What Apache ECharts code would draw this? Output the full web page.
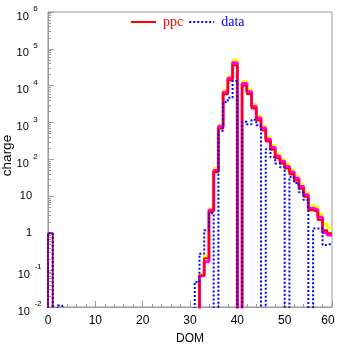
<!DOCTYPE html>
<html><head><meta charset="utf-8">
<script src="https://cdn.jsdelivr.net/npm/echarts@6/dist/echarts.min.js"></script>
<style>html,body{margin:0;padding:0;background:#fff;}#c{width:337px;height:344px;}</style>
</head><body><div id="c"></div>
<script>
// x tick labels (DOM) and y decade exponents
const xTicks = [0, 10, 20, 30, 40, 50, 60];
const yTickExp = [-2, -1, 0, 1, 2, 3, 4, 5, 6];
const yMinorMantissa = [2, 3, 4, 5, 6, 7, 8, 9];

// bin contents for DOM 0..59
const ppc = [
  1, 0, 0, 0, 0, 0, 0, 0, 0, 0,
  0, 0, 0, 0, 0, 0, 0, 0, 0, 0,
  0, 0, 0, 0, 0, 0, 0, 0, 0, 0,
  0, 0, 0.072, 0.21, 3.8, 45, 690, 5900, 14000, 36000,
  0, 10000, 6000, 2400, 1160, 620, 310, 185, 108, 78,
  57, 40, 27, 16, 9.7, 4.2, 3.8, 2.3, 1.2, 1.0
];
const ppcUpper = [
  0, 0, 0, 0, 0, 0, 0, 0, 0, 0,
  0, 0, 0, 0, 0, 0, 0, 0, 0, 0,
  0, 0, 0, 0, 0, 0, 0, 0, 0, 0,
  0, 0, 0.074, 0.24, 4.6, 58, 850, 7500, 18000, 50000,
  0, 13000, 7800, 3100, 1500, 800, 400, 240, 140, 100,
  74, 52, 35, 21, 13, 5.8, 5.2, 3.3, 1.8, 1.4
];
const ppcMid = [
  0, 0, 0, 0, 0, 0, 0, 0, 0, 0,
  0, 0, 0, 0, 0, 0, 0, 0, 0, 0,
  0, 0, 0, 0, 0, 0, 0, 0, 0, 0,
  0, 0, 0.07, 0.17, 4.2, 50, 780, 6700, 16000, 42000,
  0, 11500, 6900, 2750, 1330, 710, 355, 212, 124, 90,
  65, 46, 31, 18.5, 11, 4.8, 4.3, 2.7, 1.05, 0.9
];
const dataVals = [
  1, 0, 0.011, 0, 0, 0, 0, 0, 0, 0,
  0, 0, 0, 0, 0, 0, 0, 0, 0, 0,
  0, 0, 0, 0, 0, 0, 0, 0, 0, 0,
  0, 0.048, 0.28, 1.2, 3.5, 0, 600, 3600, 4700, 13500,
  0, 1050, 900, 1200, 850, 0, 190, 115, 78, 62,
  0, 34, 23, 13, 8, 0, 1.35, 1.35, 0.48, 0.52
];

const FLOOR = 1e-4; // empty bins drawn below the axis and clipped
function stepPoints(vals) {
  const pts = [[0, FLOOR]];
  vals.forEach((v, k) => pts.push([k, v > 0 ? v : FLOOR]));
  const last = vals[vals.length - 1];
  pts.push([vals.length, last > 0 ? last : FLOOR]);
  return pts;
}
const yMajor = yTickExp.map(e => Math.pow(10, e));
const yMinor = [];
yTickExp.slice(0, -1).forEach(e => yMinorMantissa.forEach(m => yMinor.push(m * Math.pow(10, e))));

const SANS = 'Liberation Sans, Arial, Helvetica, sans-serif';
const SERIF = 'Liberation Serif, Times New Roman, serif';
const GRAY = '#9a9a9a';

const chart = echarts.init(document.getElementById('c'), null, {renderer: 'canvas'});
function line(name, vals, color, width, type, z) {
  return {
    name: name, type: 'line', data: stepPoints(vals), step: 'end',
    symbol: 'none', showSymbol: false, clip: true, z: z,
    lineStyle: {color: color, width: width, type: type},
    itemStyle: {color: color}, emphasis: {disabled: true}
  };
}
chart.setOption({
  animation: false,
  backgroundColor: '#fff',
  grid: {left: 48, right: 5, top: 12, bottom: 37, containLabel: false, outerBoundsMode: 'none',
         show: true, borderColor: GRAY, borderWidth: 1, backgroundColor: 'transparent'},
  legend: {
    data: [{name: 'ppc', textStyle: {color: '#ff0000'}}, {name: 'data', textStyle: {color: '#0000ff'}}],
    left: 130, top: 15, padding: 0, itemWidth: 25, itemHeight: 14, itemGap: 5,
    itemStyle: {opacity: 0, borderWidth: 0},
    textStyle: {fontFamily: SERIF, fontSize: 14, padding: [0, 0, 0, 2]},
    selectedMode: false
  },
  xAxis: {
    type: 'value', min: 0, max: 60, interval: 10,
    name: 'DOM', nameLocation: 'middle', nameGap: 26, nameMoveOverlap: false,
    nameTextStyle: {fontFamily: SANS, fontSize: 12, color: '#000'},
    axisLine: {show: true, lineStyle: {color: GRAY, width: 1}},
    axisTick: {show: true, inside: true, length: 6, lineStyle: {color: GRAY}},
    minorTick: {show: true, splitNumber: 5, length: 3, lineStyle: {color: GRAY}},
    splitLine: {show: false}, minorSplitLine: {show: false},
    axisLabel: {
      customValues: xTicks, margin: 8, fontFamily: SANS, fontSize: 12, color: '#000',
      formatter: v => v === 60 ? '{r|60}' : String(v),
      rich: {r: {fontFamily: SANS, fontSize: 12, color: '#000', padding: [0, 8, 0, 0]}}
    }
  },
  yAxis: [{
    type: 'log', logBase: 10, min: 0.01, max: 1e6, position: 'left',
    name: 'charge', nameLocation: 'middle', nameGap: 34, nameRotate: 90, nameMoveOverlap: false,
    nameTextStyle: {fontFamily: SANS, fontSize: 13.5, color: '#000', padding: [0, 0, 0, 8]},
    axisLine: {show: true, lineStyle: {color: GRAY, width: 1}},
    axisTick: {show: true, inside: true, length: 6, customValues: yMajor, lineStyle: {color: GRAY}},
    splitLine: {show: false},
    axisLabel: {
      customValues: yMajor, margin: 6, fontFamily: SANS, fontSize: 11, color: '#000',
      formatter: v => {
        const e = Math.round(Math.log10(v));
        if (e === 0) return '{p|1}';
        if (e === 1) return '{p|10}';
        return '{b|10}{' + (e < 0 ? 'en' : 'ep') + '|' + e + '}';
      },
      rich: {
        p: {fontFamily: SANS, fontSize: 11, color: '#000', padding: [0, 10, 0, 0]},
        b: {fontFamily: SANS, fontSize: 11, color: '#000', padding: [8, 0, 0, 0], verticalAlign: 'bottom'},
        en: {fontFamily: SANS, fontSize: 8, color: '#000', padding: [3, 0.5, 9, 4.5], verticalAlign: 'bottom'},
        ep: {fontFamily: SANS, fontSize: 8, color: '#000', padding: [3, 4.2, 9, 4.5], verticalAlign: 'bottom'}
      }
    }
  }, {
    type: 'log', logBase: 10, min: 0.01, max: 1e6, position: 'left',
    axisLine: {show: false}, axisLabel: {show: false}, splitLine: {show: false},
    axisTick: {show: true, inside: true, length: 3, customValues: yMinor, lineStyle: {color: GRAY}}
  }],
  series: [
    line('ppc upper', ppcUpper, '#ffff00', 3, 'solid', 1),
    line('ppc mid', ppcMid, '#ff00ff', 3, 'solid', 2),
    line('ppc', ppc, '#ff0000', 2, 'solid', 3),
    line('data', dataVals, '#0000ff', 2, [2, 2], 4)
  ]
});
</script></body></html>
